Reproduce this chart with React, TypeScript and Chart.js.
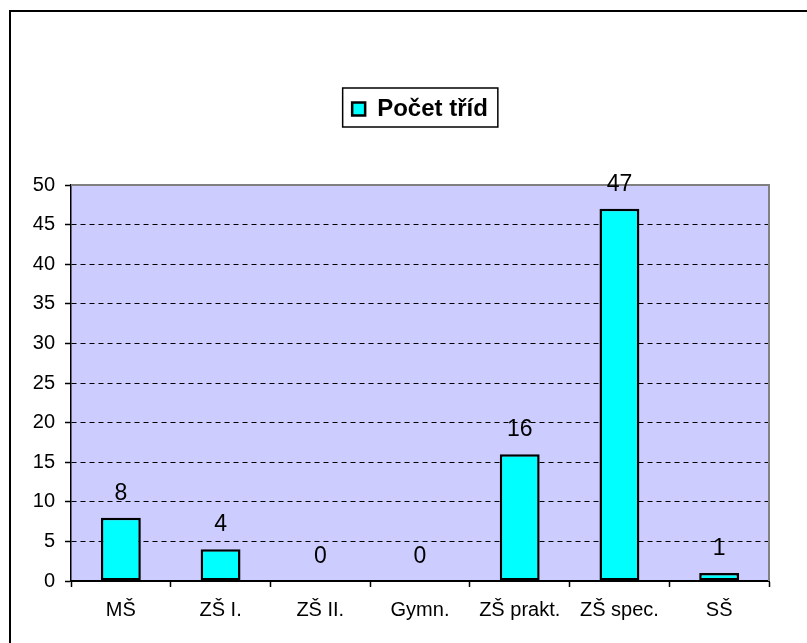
import React, { useEffect, useRef } from "react";
import { Chart, registerables } from "chart.js";

Chart.register(...registerables);

const categories = ["MŠ", "ZŠ I.", "ZŠ II.", "Gymn.", "ZŠ prakt.", "ZŠ spec.", "SŠ"];
const seriesName = "Počet tříd";
const values = [8, 4, 0, 0, 16, 47, 1];
const yMin = 0;
const yMax = 50;
const yStep = 5;

const FONT = '"Liberation Sans", Arial, sans-serif';
const TOP_PAD = 87;
const LEGEND_H = 98;

const bgPlugin = {
  id: "plotBg",
  beforeLayout(chart: any) {
    const lg = chart.legend;
    if (lg && !lg._fixedH) {
      const orig = lg.fit;
      lg.fit = function () {
        orig.call(this);
        this.height = LEGEND_H;
      };
      lg._fixedH = true;
    }
  },
  beforeDraw(chart: any) {
    const { ctx, chartArea: a } = chart;
    ctx.save();
    ctx.fillStyle = "#ffffff";
    ctx.fillRect(0, 0, chart.width, chart.height);
    ctx.fillStyle = "#CCCCFF";
    ctx.fillRect(a.left, a.top, a.right - a.left, a.bottom - a.top);
    ctx.restore();
  },
  afterDatasetsDraw(chart: any) {
    const { ctx, chartArea: a } = chart;
    ctx.save();
    ctx.strokeStyle = "#808080";
    ctx.lineWidth = 2;
    ctx.beginPath();
    ctx.moveTo(a.left, a.top);
    ctx.lineTo(a.right, a.top);
    ctx.lineTo(a.right, a.bottom);
    ctx.stroke();
    ctx.fillStyle = "#000";
    ctx.font = `23px ${FONT}`;
    ctx.textAlign = "center";
    ctx.textBaseline = "alphabetic";
    const meta = chart.getDatasetMeta(0);
    meta.data.forEach((bar: any, i: number) => {
      const v = chart.data.datasets[0].data[i];
      ctx.fillText(String(v), bar.x, bar.y - 18);
    });
    ctx.restore();
  },
  afterDraw(chart: any) {
    const { ctx } = chart;
    ctx.save();
    ctx.strokeStyle = "#000";
    ctx.lineWidth = 2;
    ctx.strokeRect(10, 11, 1000, 1000);
    const lg = chart.legend;
    if (lg && lg.legendHitBoxes && lg.legendHitBoxes[0]) {
      const hb = lg.legendHitBoxes[0];
      ctx.lineWidth = 1.5;
      ctx.strokeRect(hb.left - 9.5, hb.top - 9, hb.width + 19.5, 39);
    }
    ctx.restore();
  },
};

export default function App() {
  const ref = useRef<HTMLCanvasElement | null>(null);
  useEffect(() => {
    if (!ref.current) return;
    const chart = new Chart(ref.current, {
      type: "bar",
      data: {
        labels: categories,
        datasets: [
          {
            label: seriesName,
            data: values,
            backgroundColor: "#00FFFF",
            borderColor: "#000000",
            borderWidth: (c: any) => (c.raw === 0 ? 0 : 2.5),
            borderSkipped: false,
            barPercentage: 0.4,
            categoryPercentage: 1,
          },
        ],
      },
      options: {
        animation: false,
        responsive: false,
        maintainAspectRatio: false,
        layout: { padding: { top: TOP_PAD, right: 38, bottom: 0, left: 0 } },
        plugins: {
          legend: {
            display: true,
            position: "top",
            fullSize: false,
            labels: {
              font: { family: FONT, size: 24, weight: "bold" },
              color: "#000",
              boxWidth: 13,
              boxHeight: 13,
              padding: 10,
            },
          },
          tooltip: { enabled: false },
        },
        scales: {
          x: {
            afterFit: (s: any) => {
              s.height = 62;
            },
            grid: {
              display: true,
              drawOnChartArea: false,
              offset: true,
              tickLength: 6,
              tickColor: "#000",
              tickWidth: 1.5,
            },
            border: { display: true, color: "#000", width: 2 },
            ticks: {
              color: "#000",
              font: { family: FONT, size: 20 },
              padding: 11,
              maxRotation: 0,
              autoSkip: false,
            },
          },
          y: {
            min: yMin,
            max: yMax,
            afterFit: (s: any) => {
              s.width = 71;
            },
            grid: {
              color: (c: any) =>
                c.tick && (c.tick.value === yMin || c.tick.value === yMax) ? "rgba(0,0,0,0)" : "#000",
              lineWidth: 1,
              tickLength: 6,
              tickColor: "#000",
              tickWidth: 1.5,
              tickBorderDash: [],
            },
            border: { display: true, color: "#000", width: 1.5, dash: [5, 4] },
            ticks: {
              stepSize: yStep,
              color: "#000",
              font: { family: FONT, size: 20 },
              padding: 10,
            },
          },
        },
      },
      plugins: [bgPlugin],
    });
    return () => chart.destroy();
  }, []);
  return (
    <div style={{ position: "fixed", left: 0, top: 0, width: 807, height: 643 }}>
      <canvas ref={ref} width={807} height={643} style={{ width: 807, height: 643, display: "block" }} />
    </div>
  );
}
